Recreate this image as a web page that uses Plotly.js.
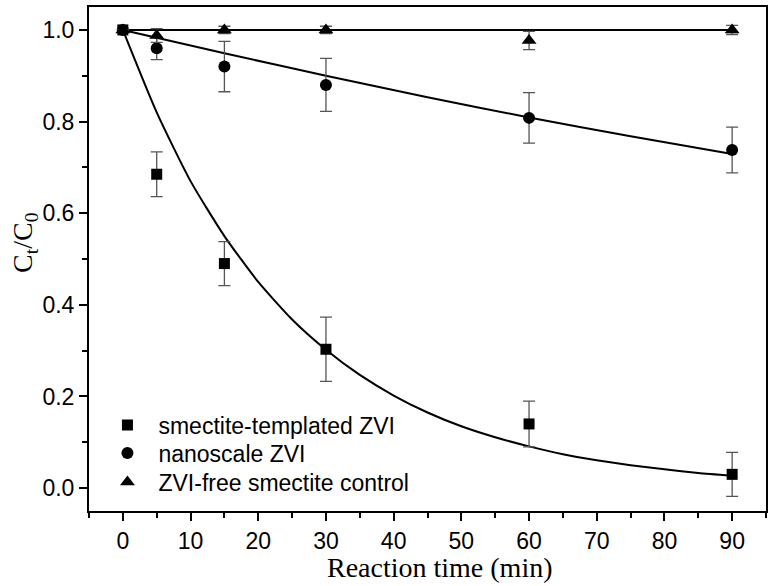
<!DOCTYPE html>
<html>
<head>
<meta charset="utf-8">
<script src="https://cdn.plot.ly/plotly-3.0.1.min.js"></script>
<style>html,body{margin:0;padding:0;background:#fff;}#chart{width:773px;height:586px;}</style>
</head>
<body>
<div id="chart"></div>
<script>
// Measured data
const times = [0, 5, 15, 30, 60, 90];
const smectiteZVI = [1.0, 0.685, 0.49, 0.303, 0.14, 0.03];
const smectiteZVIErr = [0.0, 0.049, 0.048, 0.07, 0.05, 0.048];
const nanoZVI = [1.0, 0.96, 0.92, 0.88, 0.808, 0.738];
const nanoZVIErr = [0.0, 0.025, 0.055, 0.058, 0.055, 0.05];
const control = [1.0, 0.988, 1.0, 1.0, 0.977, 1.0];
const controlErr = [0.0, 0.015, 0.008, 0.008, 0.02, 0.01];

// Fitted curves
const fitTimes = [0, 5, 10, 15, 20, 25, 30, 35, 40, 45, 50, 55, 60, 65, 70, 75, 80, 85, 90];
const smectiteFit = [1.0, 0.82, 0.67, 0.55, 0.45, 0.368, 0.302, 0.247, 0.202, 0.165, 0.135, 0.111, 0.091, 0.074, 0.061, 0.05, 0.041, 0.033, 0.027];
const nanoFitTimes = [0, 15, 30, 45, 60, 75, 90];
const nanoFit = [1.0, 0.949, 0.9, 0.853, 0.809, 0.768, 0.729];
const controlFitTimes = [0, 90];
const controlFit = [1.0, 1.0];

const names = ['smectite-templated ZVI', 'nanoscale ZVI', 'ZVI-free smectite control'];
const xTicks = [0, 10, 20, 30, 40, 50, 60, 70, 80, 90];
const yTicks = [0.0, 0.2, 0.4, 0.6, 0.8, 1.0];

const lineStyle = {color: '#000', width: 2, shape: 'spline', smoothing: 0.6};
const errStyle = (arr) => ({type: 'data', array: arr, visible: true, color: '#555', thickness: 1.3, width: 6});

const traces = [
  {x: fitTimes, y: smectiteFit, mode: 'lines', line: lineStyle, showlegend: false, hoverinfo: 'skip'},
  {x: nanoFitTimes, y: nanoFit, mode: 'lines', line: lineStyle, showlegend: false, hoverinfo: 'skip'},
  {x: controlFitTimes, y: controlFit, mode: 'lines', line: {color: '#000', width: 2}, showlegend: false, hoverinfo: 'skip'},
  {x: times, y: smectiteZVI, name: names[0], mode: 'markers', error_y: errStyle(smectiteZVIErr), legend: 'legend',
   marker: {symbol: 'square', size: 11, color: '#000'}},
  {x: times, y: nanoZVI, name: names[1], mode: 'markers', error_y: errStyle(nanoZVIErr), legend: 'legend2',
   marker: {symbol: 'circle', size: 12, color: '#000'}},
  {x: times, y: control, name: names[2], mode: 'markers', error_y: errStyle(controlErr), legend: 'legend3',
   marker: {symbol: 'triangle-up', size: 13, color: '#000'}}
];

const axisCommon = {
  showgrid: false, zeroline: false, showline: true, linecolor: '#000', linewidth: 2,
  mirror: true, ticks: 'outside', ticklen: 8, tickwidth: 2, tickcolor: '#000',
  tickfont: {family: 'Liberation Sans, Arial, sans-serif', size: 23, color: '#000'}
};

const legendBase = (y) => ({x: 0.011, y: y, xanchor: 'left', yanchor: 'middle', bgcolor: 'rgba(0,0,0,0)',
  font: {family: 'Liberation Sans, Arial, sans-serif', size: 23, color: '#000'}, itemwidth: 52});

const layout = {
  width: 773, height: 586,
  margin: {l: 89, r: 7, t: 7, b: 75},
  paper_bgcolor: '#fff', plot_bgcolor: '#fff',
  showlegend: true,
  legend: legendBase(0.1706),
  legend2: legendBase(0.1151),
  legend3: legendBase(0.0575),
  xaxis: Object.assign({}, axisCommon, {
    range: [-5, 95], tickvals: xTicks, ticktext: xTicks.map(String),
    minor: {dtick: 5, tick0: 0, ticks: 'outside', ticklen: 5, tickwidth: 2, tickcolor: '#000'}
  }),
  yaxis: Object.assign({}, axisCommon, {
    range: [-0.05, 1.05], tickvals: yTicks, ticktext: yTicks.map(v => v.toFixed(1)),
    minor: {dtick: 0.1, tick0: 0, ticks: 'outside', ticklen: 5, tickwidth: 2, tickcolor: '#000'}
  }),
  annotations: [
    {text: 'Reaction time (min)', xref: 'paper', yref: 'paper', x: 0.518, y: -0.113,
     xanchor: 'center', yanchor: 'middle', showarrow: false,
     font: {family: 'Liberation Serif, Times New Roman, serif', size: 28, color: '#000'}},
    {text: 'C<sub>t</sub>/C<sub>0</sub>', xref: 'paper', yref: 'paper', x: -0.0945, y: 0.532,
     xanchor: 'center', yanchor: 'middle', showarrow: false, textangle: -90,
     font: {family: 'Liberation Serif, Times New Roman, serif', size: 28, color: '#000'}}
  ]
};

Plotly.newPlot('chart', traces, layout, {displayModeBar: false, staticPlot: true});
</script>
</body>
</html>
